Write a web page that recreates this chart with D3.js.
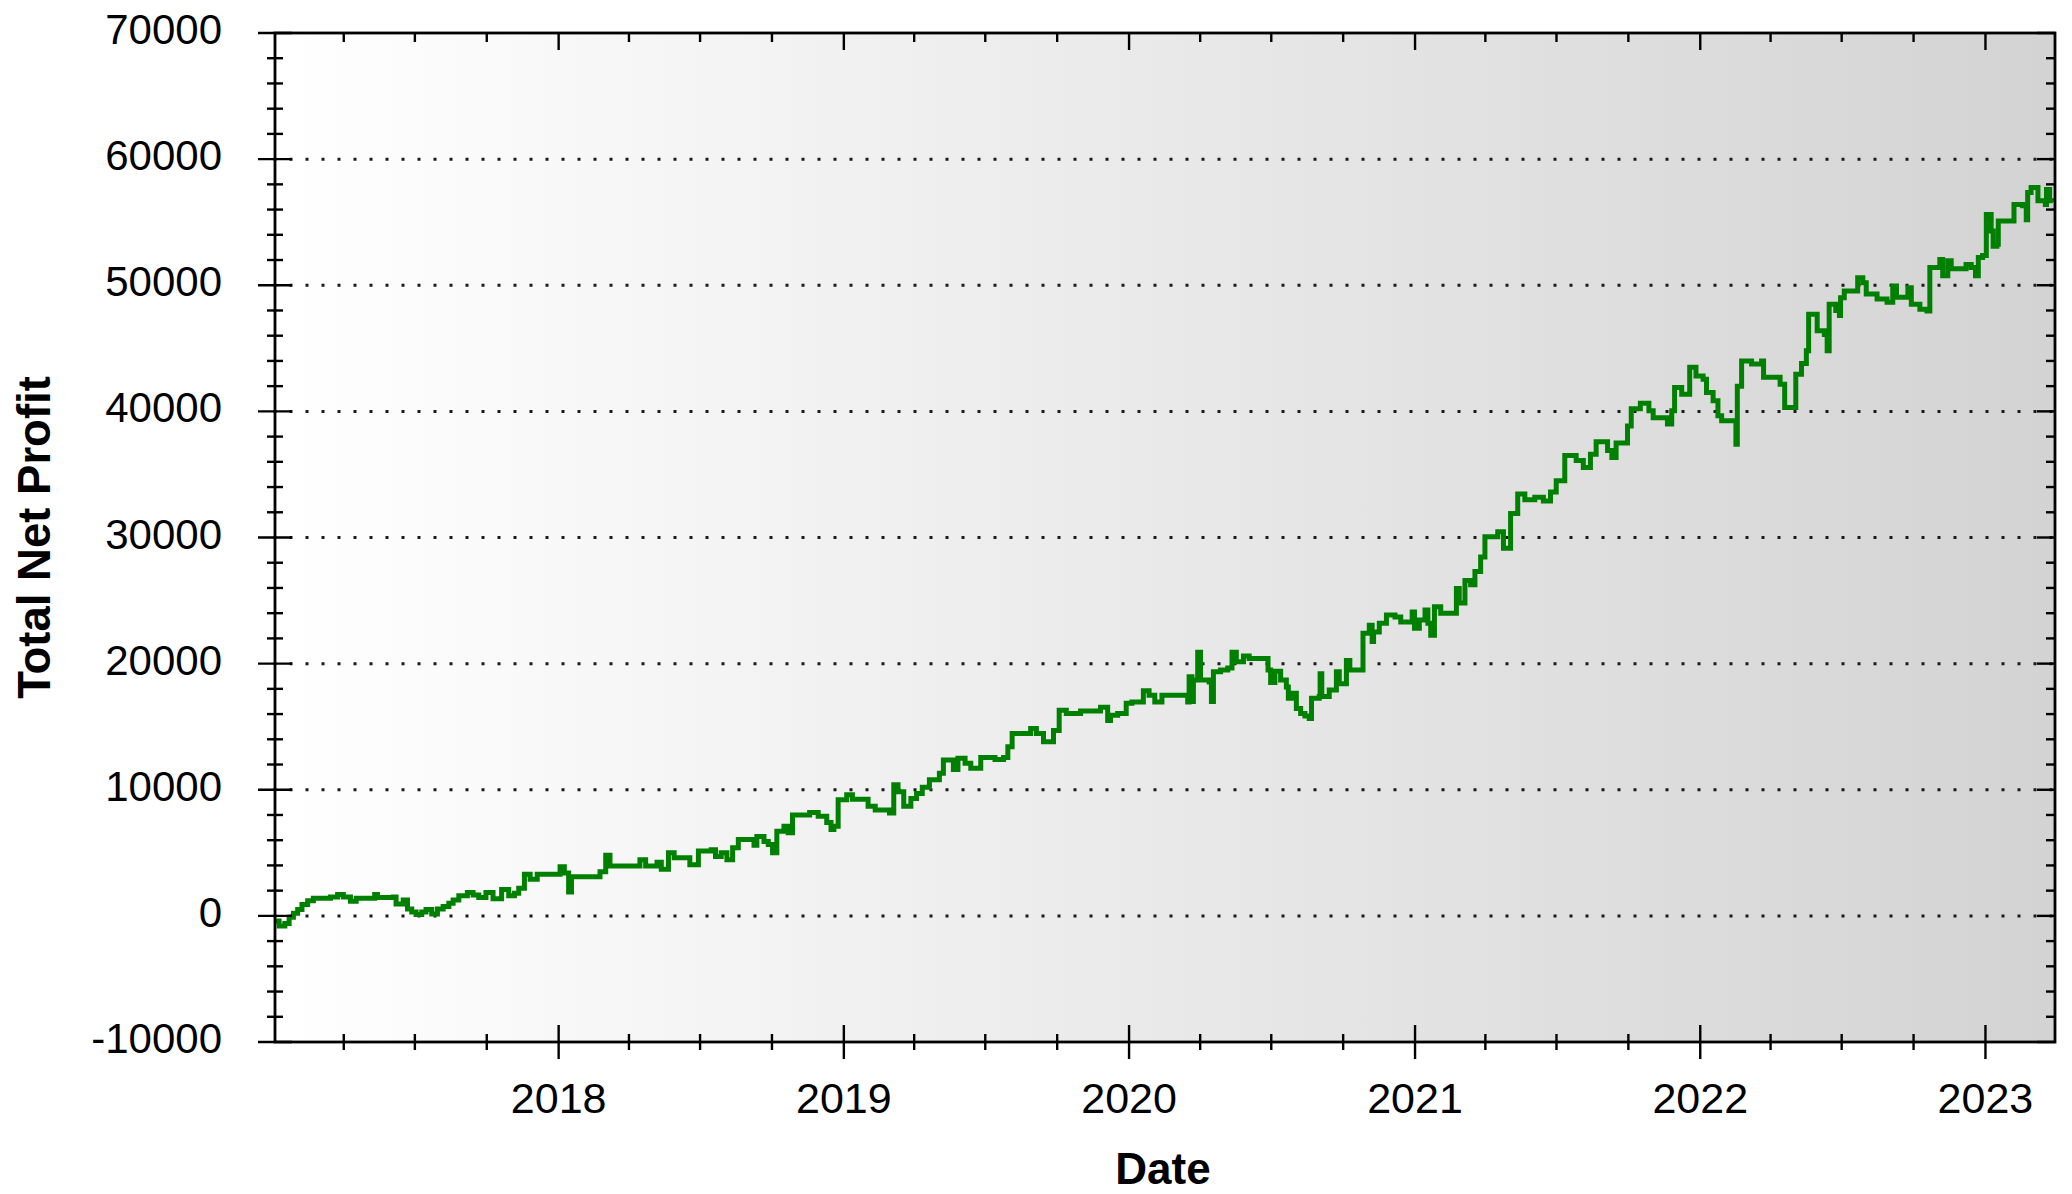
<!DOCTYPE html>
<html>
<head>
<meta charset="utf-8">
<script src="https://cdn.jsdelivr.net/npm/d3@7"></script>
<style>
  html, body { margin: 0; padding: 0; background: #ffffff; }
  svg { display: block; }
  text { font-family: "Liberation Sans", Arial, sans-serif; fill: #000; }
</style>
</head>
<body>
<svg id="chart" width="2072" height="1194"></svg>
<script>
// ---------------- data ----------------
const yMajorTicks = [-10000, 0, 10000, 20000, 30000, 40000, 50000, 60000, 70000];
const gridValues = [0, 10000, 20000, 30000, 40000, 50000, 60000];
const xYearLabels = ["2018", "2019", "2020", "2021", "2022", "2023"];
const xDomain = ["2017-01-03", "2023-03-31"];
const yDomain = [-10000, 70000];
const xTitle = "Date";
const yTitle = "Total Net Profit";

// equity curve: [decimal year, total net profit]
const equity = [
  [2017.006, -400], [2017.02, -800], [2017.04, -600], [2017.055, -100], [2017.07, 200],
  [2017.085, 500], [2017.10, 900], [2017.12, 1200], [2017.14, 1400], [2017.20, 1500],
  [2017.225, 1700], [2017.245, 1500], [2017.27, 1150], [2017.29, 1400], [2017.355, 1700],
  [2017.365, 1450], [2017.42, 1500], [2017.43, 950], [2017.455, 1250], [2017.47, 550],
  [2017.485, 300], [2017.50, 100], [2017.52, 300], [2017.535, 500], [2017.555, 150],
  [2017.575, 550], [2017.595, 750], [2017.615, 1000], [2017.63, 1250], [2017.65, 1600],
  [2017.68, 1850], [2017.70, 1650], [2017.72, 1450], [2017.745, 1850], [2017.77, 1350],
  [2017.80, 2100], [2017.825, 1600], [2017.845, 1800], [2017.86, 2200], [2017.88, 3300],
  [2017.90, 2900], [2017.925, 3300], [2018.005, 3900], [2018.02, 3400], [2018.035, 1900],
  [2018.045, 3100], [2018.145, 3500], [2018.165, 4800], [2018.18, 3950], [2018.285, 4450],
  [2018.305, 3950], [2018.345, 4250], [2018.36, 3700], [2018.385, 5000], [2018.405, 4600],
  [2018.46, 4050], [2018.49, 5150], [2018.535, 5250], [2018.55, 4700], [2018.57, 5000],
  [2018.59, 4450], [2018.61, 5400], [2018.63, 6050], [2018.685, 5600], [2018.695, 6300],
  [2018.72, 5900], [2018.735, 5650], [2018.75, 5000], [2018.765, 6700], [2018.79, 7100],
  [2018.805, 6600], [2018.82, 8000], [2018.88, 8200], [2018.91, 7900], [2018.94, 7400],
  [2018.955, 6850], [2018.965, 7100], [2018.98, 9200], [2019.01, 9600], [2019.03, 9250],
  [2019.085, 8700], [2019.11, 8400], [2019.16, 8150], [2019.175, 10400], [2019.19, 9850],
  [2019.21, 8700], [2019.235, 9300], [2019.255, 9700], [2019.275, 10200], [2019.30, 10800],
  [2019.335, 11300], [2019.349, 12350], [2019.384, 11600], [2019.40, 12500], [2019.425, 12100],
  [2019.445, 11700], [2019.48, 12550], [2019.53, 12400], [2019.56, 12550], [2019.575, 13400],
  [2019.59, 14450], [2019.655, 14850], [2019.675, 14450], [2019.70, 13800], [2019.735, 14700],
  [2019.755, 16300], [2019.78, 16050], [2019.83, 16250], [2019.90, 16550], [2019.925, 15500],
  [2019.935, 15900], [2019.96, 16050], [2019.99, 16850], [2020.01, 16950], [2020.05, 17850],
  [2020.07, 17500], [2020.09, 16950], [2020.115, 17500], [2020.205, 16950], [2020.21, 18950],
  [2020.22, 17000], [2020.225, 18700], [2020.24, 20900], [2020.25, 18700], [2020.28, 18550],
  [2020.288, 17000], [2020.295, 19350], [2020.32, 19500], [2020.345, 19650], [2020.36, 20900],
  [2020.375, 20150], [2020.40, 20600], [2020.42, 20400], [2020.486, 19500], [2020.495, 18500],
  [2020.51, 19400], [2020.53, 18700], [2020.55, 18150], [2020.557, 17250], [2020.57, 17650],
  [2020.585, 16450], [2020.60, 16050], [2020.615, 15850], [2020.63, 15650], [2020.638, 17250],
  [2020.665, 17400], [2020.668, 19200], [2020.674, 17400], [2020.70, 17900], [2020.725, 19350],
  [2020.735, 18400], [2020.76, 20250], [2020.772, 19500], [2020.818, 22400], [2020.84, 23050],
  [2020.85, 21750], [2020.855, 22500], [2020.875, 23200], [2020.90, 23850], [2020.93, 23700],
  [2020.95, 23300], [2020.99, 24100], [2020.998, 22800], [2021.015, 23450], [2021.035, 24250],
  [2021.045, 23200], [2021.055, 22250], [2021.068, 24500], [2021.09, 24000], [2021.145, 25950],
  [2021.155, 24800], [2021.175, 26600], [2021.195, 26250], [2021.21, 27300], [2021.23, 28450],
  [2021.245, 30050], [2021.29, 30450], [2021.31, 29150], [2021.335, 31900], [2021.36, 33450],
  [2021.385, 33000], [2021.42, 33200], [2021.45, 32900], [2021.475, 33600], [2021.495, 34500],
  [2021.525, 36500], [2021.565, 36100], [2021.59, 35550], [2021.615, 36600], [2021.635, 37600],
  [2021.675, 36900], [2021.69, 36350], [2021.705, 37500], [2021.745, 38850], [2021.758, 40200],
  [2021.79, 40650], [2021.82, 40050], [2021.835, 39500], [2021.885, 39000], [2021.90, 40050],
  [2021.91, 41900], [2021.935, 41350], [2021.963, 43500], [2021.985, 42800], [2022.01, 42550],
  [2022.022, 41500], [2022.045, 40850], [2022.062, 39650], [2022.075, 39250], [2022.125, 37400],
  [2022.13, 42000], [2022.145, 44000], [2022.18, 43750], [2022.215, 44000], [2022.222, 42700],
  [2022.28, 42150], [2022.296, 40300], [2022.335, 42950], [2022.355, 43800], [2022.372, 44800],
  [2022.38, 47700], [2022.41, 46400], [2022.435, 46100], [2022.445, 44800], [2022.452, 48500],
  [2022.475, 48000], [2022.488, 47600], [2022.492, 49000], [2022.505, 49550], [2022.552, 50600],
  [2022.57, 50200], [2022.582, 49300], [2022.62, 48900], [2022.655, 48650], [2022.675, 49950],
  [2022.688, 49050], [2022.728, 49800], [2022.74, 48500], [2022.77, 48100], [2022.795, 47950],
  [2022.805, 51400], [2022.84, 52050], [2022.85, 50750], [2022.868, 51950], [2022.88, 51300],
  [2022.932, 51650], [2022.95, 51400], [2022.965, 50750], [2022.975, 52200], [2022.99, 52350],
  [2023.003, 55600], [2023.02, 54300], [2023.027, 53100], [2023.04, 53250], [2023.045, 55100],
  [2023.10, 56400], [2023.13, 56300], [2023.143, 55200], [2023.148, 57350], [2023.16, 57750],
  [2023.184, 56700], [2023.21, 56400], [2023.214, 57600], [2023.225, 56700], [2023.236, 56600]
];

// ---------------- layout ----------------
const W = 2072, H = 1194;
const plot = { left: 275, right: 2055, top: 33, bottom: 1042 };

function fromDecimalYear(t) {
  const y = Math.floor(t);
  const a = new Date(y, 0, 1).getTime();
  const b = new Date(y + 1, 0, 1).getTime();
  return new Date(a + (t - y) * (b - a));
}
const parse = d3.timeParse("%Y-%m-%d");

const x = d3.scaleTime()
  .domain(xDomain.map(parse))
  .range([plot.left, plot.right]);
const y = d3.scaleLinear()
  .domain(yDomain)
  .range([plot.bottom, plot.top]);

const svg = d3.select("#chart");

// background gradient
const defs = svg.append("defs");
const grad = defs.append("linearGradient")
  .attr("id", "bg").attr("x1", "0%").attr("x2", "100%").attr("y1", "0%").attr("y2", "0%");
grad.append("stop").attr("offset", "0%").attr("stop-color", "#ffffff");
grad.append("stop").attr("offset", "100%").attr("stop-color", "#d3d3d3");

svg.append("rect")
  .attr("x", plot.left).attr("y", plot.top)
  .attr("width", plot.right - plot.left).attr("height", plot.bottom - plot.top)
  .attr("fill", "url(#bg)");

// dotted grid lines
svg.append("g").selectAll("line").data(gridValues).join("line")
  .attr("x1", plot.left - 1.5).attr("x2", plot.right)
  .attr("y1", d => y(d)).attr("y2", d => y(d))
  .attr("stroke", "#1a1a1a").attr("stroke-width", 3)
  .attr("stroke-dasharray", "3,13");

// equity line
const line = d3.line()
  .x(d => x(fromDecimalYear(d[0])))
  .y(d => y(d[1]))
  .curve(d3.curveStepAfter);

svg.append("path")
  .datum(equity)
  .attr("d", line)
  .attr("fill", "none")
  .attr("stroke", "#008000")
  .attr("stroke-width", 5)
  .attr("stroke-linejoin", "miter");

// ticks
const yMinor = d3.range(yDomain[0], yDomain[1] + 1, 2000).filter(v => v % 10000 !== 0);
const xMajor = x.ticks(d3.timeYear.every(1));
const xMinor = x.ticks(d3.timeMonth.every(3)).filter(d => d.getMonth() !== 0);

const tk = svg.append("g").attr("stroke", "#000").attr("stroke-width", 2.4);
// left axis ticks (cross the axis)
tk.selectAll(".ly").data(yMajorTicks).join("line")
  .attr("x1", plot.left - 17).attr("x2", plot.left + 17)
  .attr("y1", d => y(d)).attr("y2", d => y(d));
tk.selectAll(".lym").data(yMinor).join("line")
  .attr("x1", plot.left - 8).attr("x2", plot.left + 8)
  .attr("y1", d => y(d)).attr("y2", d => y(d));
// right axis ticks (inward)
tk.selectAll(".ry").data(yMajorTicks).join("line")
  .attr("x1", plot.right - 18).attr("x2", plot.right)
  .attr("y1", d => y(d)).attr("y2", d => y(d));
tk.selectAll(".rym").data(yMinor).join("line")
  .attr("x1", plot.right - 9).attr("x2", plot.right)
  .attr("y1", d => y(d)).attr("y2", d => y(d));
// bottom axis ticks (cross the axis)
tk.selectAll(".bx").data(xMajor).join("line")
  .attr("x1", d => x(d)).attr("x2", d => x(d))
  .attr("y1", plot.bottom - 17).attr("y2", plot.bottom + 17);
tk.selectAll(".bxm").data(xMinor).join("line")
  .attr("x1", d => x(d)).attr("x2", d => x(d))
  .attr("y1", plot.bottom - 8).attr("y2", plot.bottom + 8);
// top axis ticks (inward)
tk.selectAll(".tx").data(xMajor).join("line")
  .attr("x1", d => x(d)).attr("x2", d => x(d))
  .attr("y1", plot.top).attr("y2", plot.top + 17);
tk.selectAll(".txm").data(xMinor).join("line")
  .attr("x1", d => x(d)).attr("x2", d => x(d))
  .attr("y1", plot.top).attr("y2", plot.top + 9);

// frame
svg.append("rect")
  .attr("x", plot.left).attr("y", plot.top)
  .attr("width", plot.right - plot.left).attr("height", plot.bottom - plot.top)
  .attr("fill", "none").attr("stroke", "#000").attr("stroke-width", 2.8);

// y tick labels
svg.append("g").selectAll("text").data(yMajorTicks).join("text")
  .attr("x", plot.left - 53)
  .attr("y", d => y(d) + 11)
  .attr("text-anchor", "end")
  .attr("font-size", 42)
  .text(d => String(d));

// x tick labels
svg.append("g").selectAll("text").data(xMajor).join("text")
  .attr("x", d => x(d))
  .attr("y", 1113)
  .attr("text-anchor", "middle")
  .attr("font-size", 43)
  .text((d, i) => xYearLabels[i] !== undefined ? xYearLabels[i] : d3.timeFormat("%Y")(d));

// axis titles
svg.append("text")
  .attr("x", (plot.left + plot.right) / 2 - 2)
  .attr("y", 1184)
  .attr("text-anchor", "middle")
  .attr("font-size", 44)
  .attr("font-weight", "bold")
  .text(xTitle);

svg.append("text")
  .attr("transform", `translate(50, ${(plot.top + plot.bottom) / 2}) rotate(-90)`)
  .attr("text-anchor", "middle")
  .attr("font-size", 45.5)
  .attr("font-weight", "bold")
  .text(yTitle);
</script>
</body>
</html>
